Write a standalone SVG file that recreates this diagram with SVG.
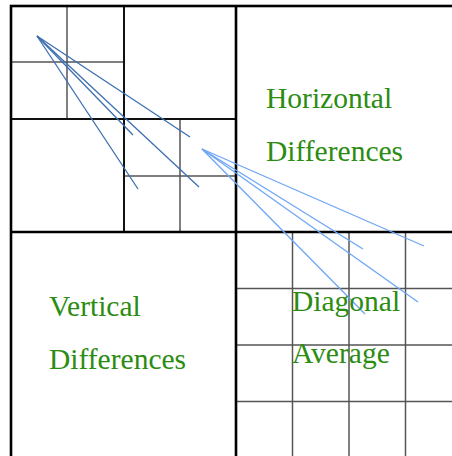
<svg xmlns="http://www.w3.org/2000/svg" width="452" height="456" viewBox="0 0 452 456">
<style>
.major{stroke:#000;stroke-width:2.6;fill:none}
.mid{stroke:#111;stroke-width:2;fill:none}
.thin{stroke:#555;stroke-width:1.5;fill:none}
.lbl{font-family:"Liberation Serif","Times New Roman",serif;font-size:29.5px;fill:#2b8c12}
.dk{stroke:#3d6fb0;stroke-width:1.3}
.lt{stroke:#6ea6f5;stroke-width:1.3}
</style>
<rect x="0" y="0" width="452" height="456" fill="#fff"/>
<g id="grid">
<g id="top-left">
<line class="thin" x1="67" y1="6" x2="67" y2="119"/>
<line class="thin" x1="11" y1="62" x2="124" y2="62"/>
<line class="thin" x1="180" y1="119" x2="180" y2="232"/>
<line class="thin" x1="124" y1="176" x2="236" y2="176"/>
<line class="mid" x1="124" y1="6" x2="124" y2="232"/>
<line class="mid" x1="11" y1="119" x2="236" y2="119"/>
</g>
<g id="diagonal-grid">
<line class="thin" x1="292.5" y1="232" x2="292.5" y2="456"/>
<line class="thin" x1="349" y1="232" x2="349" y2="456"/>
<line class="thin" x1="405.5" y1="232" x2="405.5" y2="456"/>
<line class="thin" x1="236" y1="288.5" x2="452" y2="288.5"/>
<line class="thin" x1="236" y1="345" x2="452" y2="345"/>
<line class="thin" x1="236" y1="401.5" x2="452" y2="401.5"/>
</g>
<g id="frame">
<rect class="major" x="11" y="6" width="470" height="470"/>
<line class="major" x1="236" y1="6" x2="236" y2="456"/>
<line class="major" x1="11" y1="232" x2="452" y2="232"/>
</g>
</g>
<g id="connectors">
<line class="dk" x1="37" y1="36" x2="190" y2="137"/>
<line class="dk" x1="37" y1="36" x2="133" y2="135"/>
<line class="dk" x1="37" y1="36" x2="199" y2="187"/>
<line class="dk" x1="37" y1="36" x2="138" y2="189"/>
<line class="lt" x1="202" y1="149" x2="424" y2="246"/>
<line class="lt" x1="202" y1="149" x2="363" y2="249"/>
<line class="lt" x1="202" y1="149" x2="418" y2="302"/>
<line class="lt" x1="202" y1="149" x2="365" y2="314"/>
</g>
<g id="horizontal">
<text class="lbl" x="266" y="108">Horizontal</text>
<text class="lbl" x="266" y="161">Differences</text>
</g>
<g id="vertical">
<text class="lbl" x="49" y="315.5">Vertical</text>
<text class="lbl" x="49" y="369">Differences</text>
</g>
<g id="diagonal">
<text class="lbl" x="292" y="310.5">Diagonal</text>
<text class="lbl" x="292" y="363">Average</text>
</g>
</svg>
